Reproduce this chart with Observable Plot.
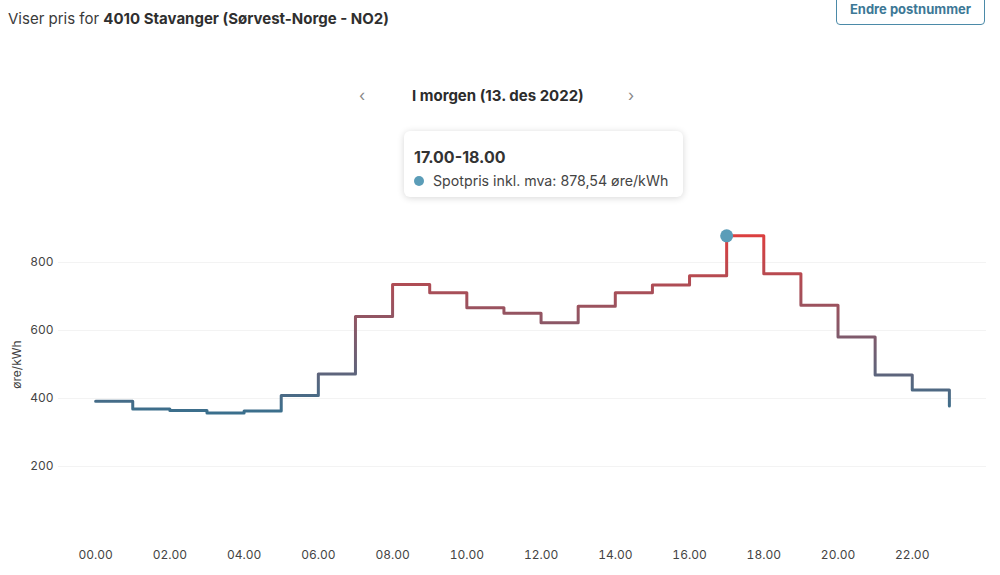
<!DOCTYPE html>
<html><head><meta charset="utf-8">
<script src="https://cdn.jsdelivr.net/npm/d3@7"></script>
<script src="https://cdn.jsdelivr.net/npm/@observablehq/plot@0.6"></script>
<style>
html,body{margin:0;padding:0}
body{width:1000px;height:575px;position:relative;overflow:hidden;background:#fff;font-family:Inter,"Open Sans",sans-serif;color:#333}
#title{position:absolute;left:8px;top:9px;font-size:15px;color:#3a3a3a;white-space:nowrap}
#title b{font-weight:700;color:#2f2f2f}
#btn{position:absolute;left:836px;top:-10px;width:149px;height:35px;border:1.5px solid #4b8aa8;border-radius:4px;box-sizing:border-box;color:#3d7896;font-weight:700;font-size:13px;text-align:center;line-height:36px}
#nav{position:absolute;left:0;top:86px;width:1000px;height:20px;font-size:15px}
#nav .arr{position:absolute;top:-1px;color:#888;font-size:16px}
#nav .lbl{position:absolute;left:412px;width:168px;text-align:center;font-weight:700;color:#2c2c2c;white-space:nowrap}
#chart{position:absolute;left:0;top:184px}
#tip{position:absolute;left:404px;top:131px;width:279px;height:66px;background:#fff;border-radius:6px;box-shadow:0 1px 7px rgba(0,0,0,0.16);z-index:5}
#tip .t{position:absolute;left:10px;top:16px;font-weight:700;font-size:16px;color:#333}
#tip .row{position:absolute;left:10px;top:41px;font-size:14.2px;color:#444;white-space:nowrap}
#tip .row i{display:inline-block;width:10px;height:10px;border-radius:50%;background:#5b9db8;margin-right:9px;vertical-align:-0px}
svg text{font-family:Inter,"Open Sans",sans-serif}
</style></head><body>
<div id="title">Viser pris for <b>4010 Stavanger (Sørvest-Norge - NO2)</b></div>
<div id="btn">Endre postnummer</div>
<div id="nav"><span class="arr" style="left:359px">‹</span><span class="lbl">I morgen (13. des 2022)</span><span class="arr" style="left:628px">›</span></div>
<div id="chart"></div>
<div id="tip"><div class="t">17.00-18.00</div><div class="row"><i></i>Spotpris inkl. mva: 878,54 øre/kWh</div></div>
<script>
const hours = [0,1,2,3,4,5,6,7,8,9,10,11,12,13,14,15,16,17,18,19,20,21,22,23];
const prices = [392,369,365,357,363,409,472,641,735,711,667,651,623,671,711,734,761,878.54,767,674,581,469,425,378];
const xTicks = [0,2,4,6,8,10,12,14,16,18,20,22];
const yTicks = [200,400,600,800];
const highlightHour = 17;
const lowColor = "#3a6f8d";
const highColor = "#db3f3f";

const data = hours.map((h,i)=>({h, p: prices[i]}));

const chart = Plot.plot({
  width: 1000,
  height: 391,
  marginTop: 10,
  marginBottom: 41,
  marginLeft: 58,
  marginRight: 14,
  style: {background: "transparent", color: "#444", fontSize: "12px"},
  x: {domain: [-1, 24], ticks: xTicks, tickFormat: d => String(d).padStart(2,"0") + ".00", tickSize: 0, tickPadding: 16, label: null},
  y: {domain: [0, 1000], ticks: yTicks, tickSize: 0, tickPadding: 5, label: "øre/kWh", labelAnchor: "center", labelOffset: 46, labelArrow: false},
  marks: [
    Plot.ruleY(yTicks, {stroke: "#f3f3f3", strokeWidth: 1}),
    Plot.lineY(data, {x: "h", y: "p", curve: "step-after", stroke: "url(#priceGrad)", strokeWidth: 3}),
    Plot.dot(data.filter(d => d.h === highlightHour), {x: "h", y: "p", r: 6.5, fill: "#5b9db8", stroke: "none"})
  ]
});
document.getElementById("chart").appendChild(chart);

const ys = chart.scale("y");
const ns = "http://www.w3.org/2000/svg";
const defs = document.createElementNS(ns, "defs");
const grad = document.createElementNS(ns, "linearGradient");
grad.setAttribute("id", "priceGrad");
grad.setAttribute("gradientUnits", "userSpaceOnUse");
grad.setAttribute("x1", 0); grad.setAttribute("x2", 0);
grad.setAttribute("y1", ys.apply(d3.max(prices)));
grad.setAttribute("y2", ys.apply(d3.min(prices)));
[[0, highColor],[1, lowColor]].forEach(([o,c]) => {
  const s = document.createElementNS(ns, "stop");
  s.setAttribute("offset", o); s.setAttribute("stop-color", c);
  grad.appendChild(s);
});
defs.appendChild(grad);
chart.insertBefore(defs, chart.firstChild);
</script>
</body></html>
